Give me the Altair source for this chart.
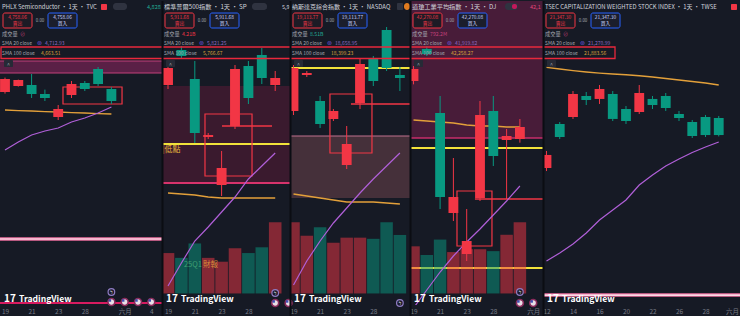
import altair as alt
import pandas as pd

FONT = "Noto Sans CJK TC"
BG = "#161a25"
SEP = "#0b0d13"
RED = "#f23645"
GREEN = "#089981"
BLUE = "#2962ff"
YELLOW = "#f2e23a"
ORANGE = "#e3a03a"
PURPLE = "#b05fd8"
TXT = "#d1d4dc"
GREY = "#a3a6af"
AXC = "#787b86"
H = 304

# ---------------- data: panel 1 (PHLX Semiconductor) ----------------
P1_TITLE = "PHLX Semiconductor · 1天 · TVC"
P1_LAST = "4,758.06"
P1_SMA20_LAST = "4,712.93"
P1_SMA100_LAST = "4,663.51"
P1_DAYS = ["19", "", "21", "", "23", "", "28", "", "", "六月", "", "4"]
P1_TICKS = [0, 2, 4, 6, 9, 11]
P1_OPEN = [4748, 4778, 4783, 4738, 4623, 4733, 4793, 4863, 4763]
P1_HIGH = [4820, 4810, 4838, 4760, 4683, 4803, 4803, 4873, 4773]
P1_LOW = [4740, 4775, 4718, 4703, 4608, 4718, 4753, 4778, 4688]
P1_CLOSE = [4813, 4808, 4738, 4718, 4663, 4788, 4763, 4788, 4703]
P1_SMA20 = [4458, 4498, 4533, 4553, 4568, 4598, 4618, 4643, 4673]
P1_SMA100 = [4658, 4655, 4653, 4650, 4648, 4645, 4643, 4640, 4638]
P1_BAND = [4843, 4903]
P1_LEVEL_WHITE = 4013
P1_LEVEL_BOTTOM = 3693
P1_BOX = [4.36, 8.8, 4688, 4773]
P1_FLAGS = [8, 9, 10, 11]
P1_FLAG_Y = 3698
P1_FLASH = [8]
P1_FLASH_Y = 3748

# ---------------- data: panel 2 (S&P 500) ----------------
P2_TITLE = "標準普爾500指數 · 1天 · SP"
P2_LAST = "5,911.68"
P2_VOL_LAST = "4.21B"
P2_SMA20_LAST = "5,821.25"
P2_SMA100_LAST = "5,766.67"
P2_DAYS = ["19", "", "21", "", "23", "", "28"]
P2_TICKS = [0, 2, 4, 6]
P2_OPEN = [5892, 5962, 5904, 5788, 5692, 5810, 5930, 5952, 5892]
P2_HIGH = [5936, 5970, 5940, 5796, 5760, 5932, 5940, 5966, 5920]
P2_LOW = [5884, 5944, 5776, 5784, 5670, 5804, 5854, 5894, 5880]
P2_CLOSE = [5926, 5950, 5796, 5792, 5726, 5924, 5866, 5906, 5906]
P2_SMA20 = [5490, 5536, 5580, 5608, 5638, 5668, 5704, 5730, 5756]
P2_SMA100 = [5676, 5674, 5672, 5668, 5666, 5666, 5666, 5666, 5666]
P2_VOLUME = [4.2, 3.7, 5.2, 3.7, 3.3, 4.7, 4.2, 4.8, 7.4]
P2_BAND = [5696, 5890]
P2_LEVEL_YELLOW = 5774
P2_BOX = [2.76, 6.27, 5710, 5834]
P2_SEG = [4.03, 7.76, 5810]
P2_LOW_NOTE = [-0.42, 5762]
P2_EARN_NOTE = [1.19, 2.62, 5532]
P2_FLAGS = [8, 9]
P2_FLAG_Y = 5456
P2_FLASH = [8]
P2_FLASH_Y = 5476

# ---------------- data: panel 3 (NASDAQ) ----------------
P3_TITLE = "納斯達克綜合指數 · 1天 · NASDAQ"
P3_LAST = "19,113.77"
P3_VOL_LAST = "8.51B"
P3_SMA20_LAST = "18,658.95"
P3_SMA100_LAST = "18,399.23"
P3_DAYS = ["19", "", "21", "", "23", "", "28"]
P3_TICKS = [0, 2, 4, 6]
P3_OPEN = [18900, 19080, 18950, 18860, 18630, 18940, 19160, 19305, 19080]
P3_HIGH = [19130, 19100, 18975, 18910, 18825, 19160, 19175, 19320, 19120]
P3_LOW = [18880, 19070, 18815, 18850, 18610, 18910, 19025, 19100, 19000]
P3_CLOSE = [19115, 19090, 18835, 18900, 18735, 19135, 19050, 19115, 19065]
P3_SMA20 = [18030, 18150, 18250, 18340, 18415, 18490, 18560, 18625, 18690]
P3_SMA100 = [18485, 18475, 18465, 18455, 18445, 18445, 18445, 18440, 18435]
P3_VOLUME = [9.25, 7.5, 8.6, 6.6, 7.25, 7.25, 7.1, 9.25, 7.6]
P3_BAND = [18465, 18775]
P3_LEVEL_YELLOW = 19115
P3_BOX = [2.74, 5.9, 18690, 18985]
P3_SEG = [4.32, 8.9, 18935]
P3_FLASH = [8]
P3_FLASH_Y = 17940

# ---------------- data: panel 4 (Dow Jones) ----------------
P4_TITLE = "道瓊工業平均指數 · 1天 · DJ"
P4_LAST = "42,270.08"
P4_VOL_LAST = "792.2M"
P4_SMA20_LAST = "41,919.82"
P4_SMA100_LAST = "42,258.27"
P4_DAYS = ["19", "", "21", "", "23", "", "28", "", "", "六月"]
P4_TICKS = [0, 2, 4, 6, 9]
P4_OPEN = [42520, 42712, 42328, 41728, 41482, 41818, 42340, 42166, 42172]
P4_HIGH = [42610, 42730, 42430, 42058, 41752, 42400, 42430, 42232, 42292]
P4_LOW = [42500, 42670, 41752, 41680, 41440, 41800, 42010, 41812, 42150]
P4_CLOSE = [42592, 42682, 41824, 41824, 41560, 42316, 42070, 42190, 42244]
P4_SMA20 = [41158, 41266, 41374, 41470, 41554, 41632, 41716, 41800, 41890]
P4_SMA100 = [42286, 42280, 42274, 42268, 42256, 42250, 42250, 42244, 42244]
P4_VOLUME = [490, 400, 560, 430, 460, 460, 440, 610, 740]
P4_BAND = [42178, 43000]
P4_LEVEL_YELLOW = [42118, 41398]
P4_BOX = [3.27, 5.9, 41530, 41860]
P4_SEG = [4.62, 9.74, 41812]
P4_FLAGS = [8, 9]
P4_FLAG_Y = 41188
P4_FLASH = [8]
P4_FLASH_Y = 41254

# ---------------- data: panel 5 (TAIEX) ----------------
P5_TITLE = "TSEC CAPITALIZATION WEIGHTED STOCK INDEX · 1天 · TWSE"
P5_LAST = "21,347.30"
P5_SMA20_LAST = "21,270.99"
P5_SMA100_LAST = "21,883.56"
P5_DAYS = ["12", "", "14", "", "16", "", "20", "", "22", "", "26", "", "28", "", "六月"]
P5_TICKS = [0, 2, 4, 6, 8, 10, 12, 14]
P5_OPEN = [20991, 21464, 21539, 21765, 21733, 21786, 21625, 21593, 21733, 21765, 21571, 21485, 21539, 21528]
P5_HIGH = [21174, 21485, 21818, 21808, 21883, 21818, 21657, 21883, 21765, 21797, 21604, 21507, 21561, 21550]
P5_LOW = [20958, 21302, 21518, 21668, 21679, 21496, 21464, 21571, 21625, 21604, 21496, 21313, 21324, 21330]
P5_CLOSE = [21131, 21324, 21786, 21722, 21840, 21518, 21496, 21797, 21668, 21636, 21528, 21335, 21345, 21345]
P5_SMA20 = [19991, 20077, 20174, 20292, 20432, 20539, 20647, 20808, 20916, 21012, 21088, 21157, 21217, 21270]
P5_SMA100 = [22073, 22055, 22038, 22023, 22011, 22001, 21993, 21982, 21969, 21953, 21937, 21921, 21905, 21883]
P5_LEVEL_WHITE = 19625


# ---------------- helpers ----------------
def txt(s, x, y, color, size=5.5, weight="normal", align="left"):
    return alt.Chart(pd.DataFrame({"t": [s]})).mark_text(
        align=align, baseline="middle", font=FONT, fontSize=size,
        fontWeight=weight, color=color
    ).encode(x=alt.value(x), y=alt.value(y), text="t:N")


def pbox(x0, y0, x1, y1, fill="#000000", fo=1.0, stroke="#000000", sw=0.0, r=0, clip=False):
    return alt.Chart(pd.DataFrame({"k": [0]})).mark_rect(
        fill=fill, fillOpacity=fo, stroke=stroke, strokeWidth=sw,
        cornerRadius=r, clip=clip
    ).encode(x=alt.value(x0), x2=alt.value(x1), y=alt.value(y0), y2=alt.value(y1))


class Panel:
    def __init__(self, width, xdom, ydom, days, ticks):
        self.w = width
        self.xs = alt.Scale(domain=xdom, nice=False, zero=False)
        self.ys = alt.Scale(domain=ydom, nice=False, zero=False)
        expr = "[" + ",".join("'%s'" % d for d in days) + "][datum.value]"
        self.xaxis = alt.Axis(values=ticks, labelExpr=expr, title=None, domain=False,
                              ticks=False, grid=False, labelColor=AXC, labelFontSize=6.5,
                              labelFont=FONT, labelPadding=3, labelFlush=False,
                              labelOverlap=False, labelBound=False)
        self.layers = []

    def X(self, f):
        return alt.X(f, type="quantitative", scale=self.xs, axis=self.xaxis)

    def Y(self, f):
        return alt.Y(f, type="quantitative", scale=self.ys, axis=None)

    def band(self, lo, hi, fill, edge_lo=None, edge_hi=None, ew=1.0):
        df = pd.DataFrame({"lo": [lo], "hi": [hi]})
        self.layers.append(alt.Chart(df).mark_rect(clip=True, fill=fill).encode(
            x=alt.value(0), x2=alt.value(self.w), y=self.Y("lo"), y2="hi"))
        if edge_lo:
            self.level(lo, edge_lo, ew)
        if edge_hi:
            self.level(hi, edge_hi, ew)

    def level(self, p, color, width):
        self.layers.append(alt.Chart(pd.DataFrame({"p": [p]})).mark_rule(
            clip=True, color=color, strokeWidth=width).encode(y=self.Y("p")))

    def outline(self, box, color=RED, width=1.2):
        df = pd.DataFrame({"a": [box[0]], "b": [box[1]], "lo": [box[2]], "hi": [box[3]]})
        self.layers.append(alt.Chart(df).mark_rect(
            clip=True, fill=color, fillOpacity=0, stroke=color, strokeWidth=width).encode(
            x=self.X("a"), x2="b", y=self.Y("lo"), y2="hi"))

    def segment(self, seg, color=RED, width=1.5):
        df = pd.DataFrame({"a": [seg[0]], "b": [seg[1]], "p": [seg[2]]})
        self.layers.append(alt.Chart(df).mark_rule(
            clip=True, color=color, strokeWidth=width).encode(
            x=self.X("a"), x2="b", y=self.Y("p")))

    def note(self, x, p, s, color, size=8):
        df = pd.DataFrame({"x": [x], "p": [p], "t": [s]})
        self.layers.append(alt.Chart(df).mark_text(
            align="left", baseline="middle", font=FONT, fontSize=size, color=color).encode(
            x=self.X("x"), y=self.Y("p"), text="t:N"))

    def volume(self, vol, o, c, vdom):
        df = pd.DataFrame({"i": list(range(len(vol))), "v": vol,
                           "dir": ["up" if cc >= oo else "down" for oo, cc in zip(o, c)]})
        self.layers.append(alt.Chart(df).transform_calculate(
            x0="datum.i - 0.47", x1="datum.i + 0.47", z="0").mark_rect(
            clip=True, opacity=0.5).encode(
            x=self.X("x0"), x2="x1",
            y=alt.Y("v", type="quantitative", scale=alt.Scale(domain=vdom, nice=False, zero=False), axis=None),
            y2="z:Q",
            color=alt.Color("dir:N", scale=alt.Scale(domain=["up", "down"], range=[RED, GREEN]), legend=None)))

    def line(self, vals, color, width):
        df = pd.DataFrame({"i": list(range(len(vals))), "s": vals})
        self.layers.append(alt.Chart(df).mark_line(
            clip=True, color=color, strokeWidth=width).encode(x=self.X("i"), y=self.Y("s")))

    def candles(self, o, h, l, c):
        df = pd.DataFrame({"i": list(range(len(o))), "o": o, "h": h, "l": l, "c": c,
                           "dir": ["up" if cc >= oo else "down" for oo, cc in zip(o, c)]})
        col = alt.Color("dir:N", scale=alt.Scale(domain=["up", "down"], range=[RED, GREEN]), legend=None)
        base = alt.Chart(df)
        self.layers.append(base.mark_rule(clip=True, strokeWidth=1).encode(
            x=self.X("i"), y=self.Y("l"), y2="h", color=col))
        self.layers.append(base.transform_calculate(
            x0="datum.i - 0.37", x1="datum.i + 0.37").mark_rect(clip=True).encode(
            x=self.X("x0"), x2="x1", y=self.Y("o"), y2="c", color=col))

    def events(self, flags, fy, flashes, ly):
        if flags:
            df = pd.DataFrame({"i": flags, "p": [fy] * len(flags)})
            self.layers.append(alt.Chart(df).mark_point(
                shape="circle", filled=True, size=48, fill="#e9dfe6", stroke="#8a2b5c",
                strokeWidth=1.6, opacity=1).encode(x=self.X("i"), y=self.Y("p")))
            self.layers.append(alt.Chart(df).mark_point(
                shape="square", filled=True, size=6, fill="#3f51b5", opacity=1,
                xOffset=-1.5, yOffset=-1.5).encode(x=self.X("i"), y=self.Y("p")))
        if flashes:
            df = pd.DataFrame({"i": flashes, "p": [ly] * len(flashes), "t": ["ϟ"] * len(flashes)})
            self.layers.append(alt.Chart(df).mark_point(
                shape="circle", filled=True, size=44, fill="#1c1a2c", stroke="#8e7cc3",
                strokeWidth=1.2, opacity=1).encode(x=self.X("i"), y=self.Y("p")))
            self.layers.append(alt.Chart(df).mark_text(
                fontSize=6, color="#ffffff", font=FONT).encode(
                x=self.X("i"), y=self.Y("p"), text="t:N"))

    def header(self, title, last, vol_label, vol_color, s20, s100, title_size=6.2):
        L = self.layers
        L.append(txt(title, 2, 5.5, TXT, title_size))
        L.append(pbox(3, 12, 32, 27, fill="#1d1b25", stroke=RED, sw=1, r=2))
        L.append(txt(last, 17.5, 16.5, RED, 4.8, align="center"))
        L.append(txt("賣出", 17.5, 23, RED, 4.8, align="center"))
        L.append(txt("0.00", 40, 19.5, GREY, 4.4, align="center"))
        L.append(pbox(48, 12, 77, 27, fill="#1b1e2c", stroke=BLUE, sw=1, r=2))
        L.append(txt(last, 62.5, 16.5, "#c9d3ff", 4.8, align="center"))
        L.append(txt("買入", 62.5, 23, "#c9d3ff", 4.8, align="center"))
        L.append(txt("成交量", 2, 32.5, GREY, 5.2))
        L.append(txt(vol_label, 20, 32.5, vol_color, 5.2))
        L.append(txt("SMA 20 close", 2, 42, GREY, 5.0))
        L.append(txt("⊛", 37, 42, "#6a55d8", 6))
        L.append(txt(s20, 45, 42, "#8f6bc2", 5.0))
        L.append(txt("SMA 100 close", 2, 52, GREY, 5.0))
        L.append(txt(s100, 41, 52, "#d9a13a", 5.0))
        L.append(pbox(4, 59, 13, 66, fill="#262a36", r=1))
        L.append(txt("^", 8.5, 63.5, GREY, 5.5, align="center"))

    def red_frame(self, x0, x1):
        self.layers.append(pbox(x0, 46, x1, 57.5, fill=RED, fo=0, stroke="#e8283c", sw=1.3, clip=True))

    def logo(self, sep=True):
        self.layers.append(txt("17", 4, 297.5, "#ffffff", 10, weight="bold"))
        self.layers.append(txt("TradingView", 19, 297.5, "#ffffff", 8.6, weight="bold"))
        if sep:
            self.layers.append(alt.Chart(pd.DataFrame({"k": [0]})).mark_rule(
                color=SEP, strokeWidth=2).encode(x=alt.value(0.5), y=alt.value(0), y2=alt.value(316)))

    def chart(self):
        return alt.layer(*self.layers).resolve_scale(y="independent").properties(
            width=self.w, height=H)


# ---------------- panel 1 ----------------
p1 = Panel(162, [-0.376, 11.805], [3683, 5203], P1_DAYS, P1_TICKS)
p1.band(P1_BAND[0], P1_BAND[1], "#5a2046", "#c2407a", "#c2407a", 1.0)
p1.level(P1_LEVEL_WHITE, "#ee6f9f", 3.6)
p1.level(P1_LEVEL_WHITE, "#ffffff", 1.2)
p1.level(P1_LEVEL_BOTTOM, "#d81b60", 2)
p1.outline(P1_BOX)
p1.line(P1_SMA100, ORANGE, 1.4)
p1.line(P1_SMA20, PURPLE, 1.2)
p1.candles(P1_OPEN, P1_HIGH, P1_LOW, P1_CLOSE)
p1.events(P1_FLAGS, P1_FLAG_Y, P1_FLASH, P1_FLASH_Y)
p1.header(P1_TITLE, P1_LAST, "⊘", "#c2407a", P1_SMA20_LAST, P1_SMA100_LAST, title_size=5.9)
p1.layers.append(pbox(101, 3, 107, 9, fill=RED, r=1))
p1.layers.append(pbox(113, 2, 127, 9, fill="#2f3340", r=3))
p1.layers.append(txt("4,828", 147, 5.5, "#22ab94", 5.5))
p1.red_frame(1, 170)
p1.logo(sep=False)

# ---------------- panel 2 ----------------
p2 = Panel(128, [-0.448, 9.104], [5452, 6060], P2_DAYS, P2_TICKS)
p2.band(P2_BAND[0], P2_BAND[1], "#3a1a2e")
p2.level(P2_BAND[0], "#d6336c", 1.8)
p2.level(P2_LEVEL_YELLOW, YELLOW, 2)
p2.volume(P2_VOLUME, P2_OPEN, P2_CLOSE, [-1.2, 30.4])
p2.outline(P2_BOX)
p2.segment(P2_SEG)
p2.line(P2_SMA100, ORANGE, 1.4)
p2.line(P2_SMA20, PURPLE, 1.2)
p2.candles(P2_OPEN, P2_HIGH, P2_LOW, P2_CLOSE)
p2.note(P2_LOW_NOTE[0], P2_LOW_NOTE[1], "|低點", "#e6b53c", 8)
p2.note(P2_EARN_NOTE[0], P2_EARN_NOTE[2], "25Q1", "#3ea072", 7.5)
p2.note(P2_EARN_NOTE[1], P2_EARN_NOTE[2], "財報", "#d98a3a", 7.5)
p2.events(P2_FLAGS, P2_FLAG_Y, P2_FLASH, P2_FLASH_Y)
p2.header(P2_TITLE, P2_LAST, P2_VOL_LAST, RED, P2_SMA20_LAST, P2_SMA100_LAST)
p2.layers.append(pbox(90, 2, 105, 9, fill="#2f3340", r=3))
p2.layers.append(txt("5,9", 120, 5.5, TXT, 5.5))
p2.red_frame(-5, 133)
p2.logo()

# ---------------- panel 3 ----------------
p3 = Panel(120, [-0.263, 8.759], [17930, 19450], P3_DAYS, P3_TICKS)
p3.band(P3_BAND[0], P3_BAND[1], "#45303a", None, "#c0708e", 1.2)
p3.level(P3_LEVEL_YELLOW, YELLOW, 2)
p3.volume(P3_VOLUME, P3_OPEN, P3_CLOSE, [-1.5, 38])
p3.outline(P3_BOX)
p3.segment(P3_SEG)
p3.line(P3_SMA100, ORANGE, 1.4)
p3.line(P3_SMA20, PURPLE, 1.2)
p3.candles(P3_OPEN, P3_HIGH, P3_LOW, P3_CLOSE)
p3.events([], 0, P3_FLASH, P3_FLASH_Y)
p3.header(P3_TITLE, P3_LAST, P3_VOL_LAST, "#22ab94", P3_SMA20_LAST, P3_SMA100_LAST, title_size=6.0)
p3.layers.append(pbox(107, 2, 113, 9, fill="#2f3340", r=1))
p3.layers.append(pbox(114, 2, 120, 9, fill="#e07b1f", r=3))
p3.red_frame(-5, 125)
p3.logo()

# ---------------- panel 4 ----------------
p4 = Panel(133, [-0.263, 9.737], [41176, 43000], P4_DAYS, P4_TICKS)
p4.band(P4_BAND[0], P4_BAND[1], "#481c39", "#c72c6a", None, 1.5)
p4.level(P4_LEVEL_YELLOW[0], YELLOW, 2)
p4.level(P4_LEVEL_YELLOW[1], YELLOW, 2)
p4.volume(P4_VOLUME, P4_OPEN, P4_CLOSE, [-120, 3040])
p4.outline(P4_BOX)
p4.segment(P4_SEG)
p4.line(P4_SMA100, ORANGE, 1.4)
p4.line(P4_SMA20, PURPLE, 1.2)
p4.candles(P4_OPEN, P4_HIGH, P4_LOW, P4_CLOSE)
p4.events(P4_FLAGS, P4_FLAG_Y, P4_FLASH, P4_FLASH_Y)
p4.header(P4_TITLE, P4_LAST, P4_VOL_LAST, "#c2407a", P4_SMA20_LAST, P4_SMA100_LAST)
p4.layers.append(pbox(95, 2, 108, 9, fill="#2f3340", r=3))
p4.layers.append(pbox(102, 3, 107, 8, fill="#c2185b", r=2))
p4.layers.append(txt("42,1", 120, 5.5, "#e0467a", 5.5))
p4.red_frame(-5, 138)
p4.logo()

# ---------------- panel 5 ----------------
p5 = Panel(197, [-0.264, 14.604], [19518, 22786], P5_DAYS, P5_TICKS)
p5.level(P5_LEVEL_WHITE, "#ee6f9f", 3.6)
p5.level(P5_LEVEL_WHITE, "#ffffff", 1.2)
p5.line(P5_SMA100, ORANGE, 1.4)
p5.line(P5_SMA20, PURPLE, 1.2)
p5.candles(P5_OPEN, P5_HIGH, P5_LOW, P5_CLOSE)
p5.header(P5_TITLE, P5_LAST, "⊘", "#c2407a", P5_SMA20_LAST, P5_SMA100_LAST, title_size=5.9)
p5.layers.append(pbox(188, 3, 194, 9, fill=RED, r=1))
p5.red_frame(-5, 72)
p5.logo()

chart = alt.hconcat(p1.chart(), p2.chart(), p3.chart(), p4.chart(), p5.chart(), spacing=0).properties(
    bounds="flush", padding=0, background=BG
).configure_view(strokeWidth=0)

chart.save("out.html", embed_options={"renderer": "svg", "actions": False})
